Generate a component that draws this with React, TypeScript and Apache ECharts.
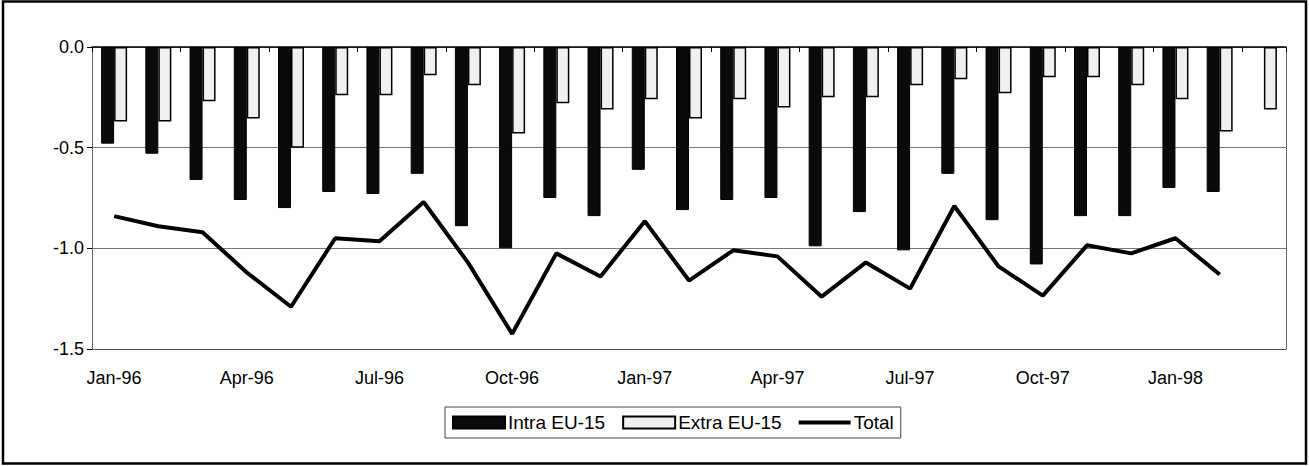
import React, { useEffect, useRef } from "react";
import * as echarts from "echarts";

const months = [
  "Jan-96", "Feb-96", "Mar-96", "Apr-96", "May-96", "Jun-96", "Jul-96", "Aug-96", "Sep-96",
  "Oct-96", "Nov-96", "Dec-96", "Jan-97", "Feb-97", "Mar-97", "Apr-97", "May-97", "Jun-97",
  "Jul-97", "Aug-97", "Sep-97", "Oct-97", "Nov-97", "Dec-97", "Jan-98", "Feb-98", "Mar-98",
];

const intraEU15 = [
  -0.48, -0.53, -0.66, -0.76, -0.8, -0.72, -0.73, -0.63, -0.89,
  -1.0, -0.75, -0.84, -0.61, -0.81, -0.76, -0.75, -0.99, -0.82,
  -1.01, -0.63, -0.86, -1.08, -0.84, -0.84, -0.7, -0.72, null,
];

const extraEU15 = [
  -0.37, -0.37, -0.27, -0.355, -0.5, -0.24, -0.24, -0.14, -0.19,
  -0.43, -0.28, -0.31, -0.26, -0.355, -0.26, -0.3, -0.25, -0.25,
  -0.19, -0.16, -0.23, -0.15, -0.15, -0.19, -0.26, -0.42, -0.31,
];

const total = [
  -0.84, -0.89, -0.92, -1.12, -1.29, -0.95, -0.965, -0.77, -1.07,
  -1.425, -1.025, -1.14, -0.865, -1.16, -1.01, -1.04, -1.24, -1.07,
  -1.2, -0.79, -1.09, -1.235, -0.985, -1.025, -0.95, -1.13, null,
];

const yTicks = { min: -1.5, max: 0, interval: 0.5 };

const FONT = "Liberation Sans";

export default function App() {
  const ref = useRef<HTMLDivElement>(null);

  useEffect(() => {
    if (!ref.current) return;
    const chart = echarts.init(ref.current, null, { renderer: "svg" });
    chart.setOption({
      animation: false,
      backgroundColor: "#ffffff",
      textStyle: { fontFamily: FONT },
      grid: { left: 92, right: 23, top: 47, bottom: 117, containLabel: false },
      legend: {
        top: 407,
        left: 445,
        itemWidth: 52,
        itemHeight: 12,
        itemGap: 17,
        padding: [6, 7, 6, 7],
        borderColor: "#444",
        borderWidth: 1,
        textStyle: { fontFamily: FONT, fontSize: 19, color: "#000", padding: [0, 0, 0, -2] },
        data: [
          { name: "Intra EU-15", icon: "rect" },
          { name: "Extra EU-15", icon: "rect" },
          { name: "Total", icon: "path://M0,0H52V4H0Z" },
        ],
      },
      xAxis: [
        {
          type: "category",
          data: months,
          position: "bottom",
          axisLine: { show: true, onZero: false, lineStyle: { color: "#444", type: "dotted", width: 1 } },
          axisTick: { show: false },
          axisLabel: { interval: 2, fontFamily: FONT, fontSize: 18, color: "#000", margin: 20 },
          splitLine: { show: false },
        },
        {
          type: "category",
          data: months,
          position: "top",
          axisLine: { show: true, onZero: false, lineStyle: { color: "#000", width: 1.5 } },
          axisTick: { show: true, inside: true, length: 5, lineStyle: { color: "#000" } },
          axisLabel: { show: false },
          splitLine: { show: false },
        },
      ],
      yAxis: [
        {
          type: "value",
          min: yTicks.min,
          max: yTicks.max,
          interval: yTicks.interval,
          position: "left",
          axisLine: { show: true, onZero: false, lineStyle: { color: "#444", type: "dotted", width: 1 } },
          axisTick: { show: true, length: 5, lineStyle: { color: "#000" } },
          axisLabel: {
            fontFamily: FONT,
            fontSize: 18,
            color: "#000",
            margin: 8,
            formatter: (v: number) => v.toFixed(1),
          },
          splitLine: { show: true, lineStyle: { color: "#777", width: 1 } },
        },
        {
          type: "value",
          min: yTicks.min,
          max: yTicks.max,
          interval: yTicks.interval,
          position: "right",
          axisLine: { show: true, onZero: false, lineStyle: { color: "#444", type: "dotted", width: 1 } },
          axisTick: { show: false },
          axisLabel: { show: false },
          splitLine: { show: false },
        },
      ],
      series: [
        {
          name: "Intra EU-15",
          type: "bar",
          data: intraEU15,
          barWidth: 13,
          barGap: "0%",
          itemStyle: { color: "#0a0a0a", borderColor: "#000", borderWidth: 1 },
        },
        {
          name: "Extra EU-15",
          type: "bar",
          data: extraEU15,
          barWidth: 13,
          barGap: "0%",
          itemStyle: { color: "#f0f0f0", borderColor: "#000", borderWidth: 1.5 },
        },
        {
          name: "Total",
          type: "line",
          data: total,
          symbol: "none",
          lineStyle: { color: "#000", width: 4 },
          itemStyle: { color: "#000" },
          connectNulls: false,
        },
      ],
      graphic: [
        {
          type: "rect",
          shape: { x: 3, y: 1.5, width: 1303, height: 462 },
          style: { fill: "none", stroke: "#000", lineWidth: 2.5 },
          silent: true,
        },
      ],
    });
    return () => chart.dispose();
  }, []);

  return (
    <div
      ref={ref}
      style={{ position: "absolute", left: 0, top: 0, width: 1309, height: 466 }}
    />
  );
}
